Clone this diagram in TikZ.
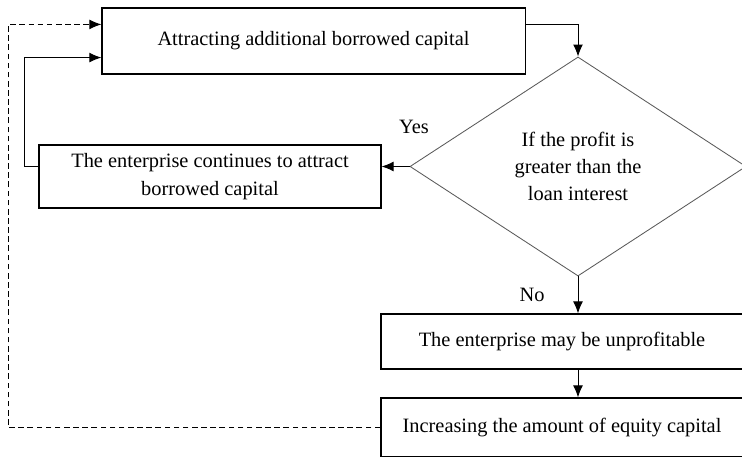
\documentclass[tikz,border=0pt]{standalone}
\usepackage{fontspec}
\setmainfont{Liberation Serif}
\usetikzlibrary{shapes.geometric,arrows.meta}

\tikzstyle{stepbox} = [draw=black, line width=0.8pt, rectangle, inner sep=0pt, align=center, font=\fontsize{14.5}{19.5}\selectfont]
\tikzstyle{decision} = [draw=black!65, line width=0.6pt, diamond, inner sep=0pt, align=center, font=\fontsize{14.5}{19.5}\selectfont]
\tikzstyle{flow} = [line width=0.7pt, -{Latex[length=8.5pt,width=7pt]}]
\tikzstyle{answer} = [font=\fontsize{14.5}{17}\selectfont]

\begin{document}
\begin{tikzpicture}[x=0.025cm, y=-0.025cm]
	\useasboundingbox (0,0) rectangle (742,457);

	\node [stepbox, minimum width=10.575cm, minimum height=1.65cm] (attract) at (313.5,41) {Attracting additional borrowed capital};
	\node [decision, minimum width=8.4cm, minimum height=5.475cm] (cond) at (578,166.5) {If the profit is\\greater than the\\loan interest};
	\node [stepbox, minimum width=8.55cm, minimum height=1.575cm] (cont) at (210,176.5) {The enterprise continues to attract\\borrowed capital};
	\node [stepbox, minimum width=9.05cm, minimum height=1.375cm] (unprof) at (562,341.5) {The enterprise may be unprofitable};
	\node [stepbox, minimum width=9.05cm, minimum height=1.475cm] (equity) at (562,427.5) {Increasing the amount of equity capital};

	\node [answer] (yes) at (414,127) {Yes};
	\node [answer] (no) at (532,295) {No};

	% connectors
	\draw [flow] ([yshift=-0.425cm]attract.north east) -| (cond.north);
	\draw [flow] (cond.west) -- (cond.west -| cont.east);
	\draw [flow] (cont.west |- cond.west) -- ++(-14,0) |- ([yshift=0.425cm]attract.south west);
	\draw [flow] (cond.south) -- (cond.south |- unprof.north);
	\draw [flow] (cond.south |- unprof.south) -- (cond.south |- equity.north);
	\draw [flow, dashed, dash pattern=on 4pt off 2.5pt] (equity.west) -- ++(-372,0) |- ([yshift=-0.425cm]attract.north west);
\end{tikzpicture}
\end{document}
